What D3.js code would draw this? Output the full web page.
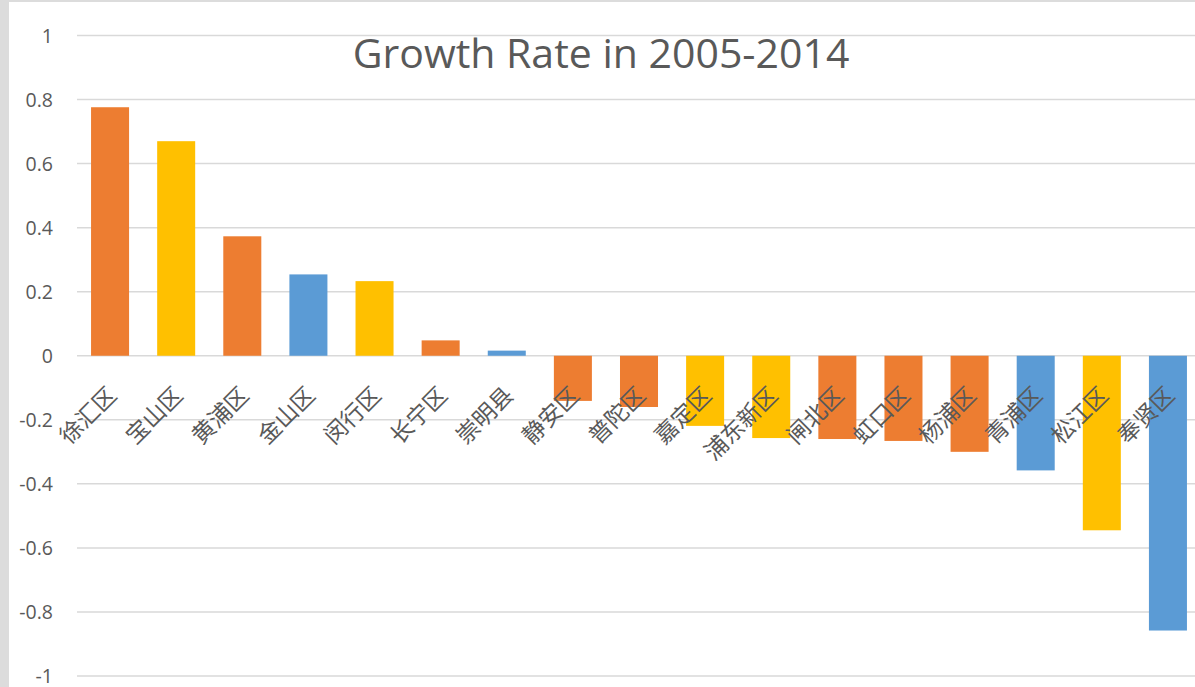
<!DOCTYPE html>
<html>
<head>
<meta charset="utf-8">
<script src="https://cdn.jsdelivr.net/npm/d3@7"></script>
<style>
  html, body { margin: 0; padding: 0; background: #dcdcdc; }
  svg { display: block; }
</style>
</head>
<body>
<svg id="chart" width="1195" height="687"></svg>
<script>
// District growth rates, 2005-2014
const districts = ["徐汇区","宝山区","黄浦区","金山区","闵行区","长宁区","崇明县","静安区","普陀区","嘉定区","浦东新区","闸北区","虹口区","杨浦区","青浦区","松江区","奉贤区"];
const growth = [0.776, 0.670, 0.373, 0.254, 0.233, 0.048, 0.016, -0.141, -0.160, -0.219, -0.257, -0.260, -0.266, -0.300, -0.358, -0.545, -0.858];
const colorGroup = ["o","y","o","b","y","o","b","o","o","y","y","o","o","o","b","y","b"];
const yTicks = [1, 0.8, 0.6, 0.4, 0.2, 0, -0.2, -0.4, -0.6, -0.8, -1];
const titleText = "Growth Rate in 2005-2014";

const palette = { o: "#ED7D31", y: "#FFC000", b: "#5B9BD5" };
const textColor = "#595959";

const svg = d3.select("#chart");

// white chart area, with a thin grey frame at the top and left
svg.append("rect")
  .attr("x", 9).attr("y", 2)
  .attr("width", 1195 - 9).attr("height", 687 - 2)
  .attr("fill", "#ffffff");

const x = d3.scaleBand()
  .domain(districts)
  .range([77, 1201])
  .paddingInner(0.425)
  .paddingOuter(0.2125);

const y = d3.scaleLinear()
  .domain([-1, 1])
  .range([676, 35.5]);

// horizontal gridlines
svg.append("g")
  .selectAll("line")
  .data(yTicks)
  .join("line")
  .attr("x1", 77).attr("x2", 1195)
  .attr("y1", d => y(d)).attr("y2", d => y(d))
  .attr("stroke", "#d9d9d9")
  .attr("stroke-width", 1.5);

// y tick labels
const fmt = d => d === 0 ? "0" : String(d);
svg.append("g")
  .selectAll("text")
  .data(yTicks)
  .join("text")
  .attr("x", 53)
  .attr("y", d => y(d))
  .attr("dy", "0.36em")
  .attr("text-anchor", "end")
  .attr("fill", textColor)
  .attr("font-family", "'Open Sans', 'Noto Sans', sans-serif")
  .attr("font-size", 19.5)
  .text(fmt);

// bars
svg.append("g")
  .selectAll("rect")
  .data(districts)
  .join("rect")
  .attr("x", d => x(d))
  .attr("width", x.bandwidth())
  .attr("y", (d, i) => y(Math.max(0, growth[i])))
  .attr("height", (d, i) => Math.abs(y(growth[i]) - y(0)))
  .attr("fill", (d, i) => palette[colorGroup[i]]);

// title
svg.append("text")
  .attr("x", 601)
  .attr("y", 68)
  .attr("text-anchor", "middle")
  .attr("fill", textColor)
  .attr("font-family", "'Open Sans', 'Noto Sans', sans-serif")
  .attr("font-size", 41)
  .text(titleText);

// rotated category labels below the zero line
svg.append("g")
  .selectAll("text")
  .data(districts)
  .join("text")
  .attr("transform", d => `translate(${x(d) + x.bandwidth() / 2 + 8},${y(0) + 41}) rotate(-45)`)
  .attr("text-anchor", "end")
  .attr("fill", textColor)
  .attr("font-family", "'Noto Sans CJK SC', sans-serif")
  .attr("font-size", 23)
  .text(d => d);
</script>
</body>
</html>
